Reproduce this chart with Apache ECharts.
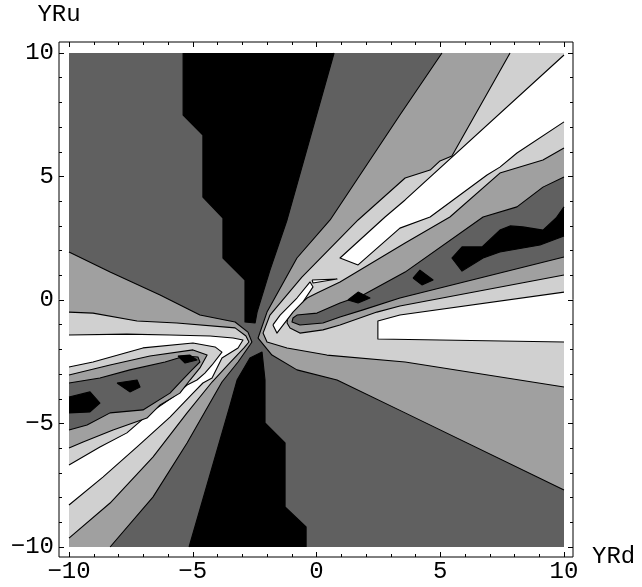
<!DOCTYPE html>
<html>
<head>
<meta charset="utf-8">
<script src="https://cdn.jsdelivr.net/npm/echarts@6/dist/echarts.min.js"></script>
<style>
  html, body { margin: 0; padding: 0; background: #fff; }
  #chart { width: 642px; height: 587px; }
</style>
</head>
<body>
<div id="chart"></div>
<script>
  // contour levels: 0 black, 1 dark, 2 mid, 3 light, 4 white
  var shades = ['#000000', '#606060', '#a0a0a0', '#d0d0d0', '#ffffff']

  // region outlines, in (YRd, YRu) data units
  var bgFill = [[-10, 10], [10, 10], [10, -10], [-10, -10]]
  var blackTop = [[-5.39, 10], [0.71, 10], [-1.19, 3.24], [-1.88, 1.21], [-2.40, -0.49], [-2.48, -0.93], [-2.89, -0.89],
    [-2.89, 0.81], [-3.78, 1.70], [-3.78, 3.32], [-4.59, 4.17], [-4.59, 6.68], [-5.39, 7.49]]
  var blackBottom = [[-2.69, -2.35], [-2.20, -2.11], [-2.08, -3.24], [-2.08, -4.98], [-1.27, -5.79], [-1.27, -8.38],
    [-0.42, -9.19], [-0.42, -10], [-5.15, -10], [-3.49, -4.25], [-3.21, -3.24]]

  // upper right lobe
  var midRight = [[5.07, 10], [10, 10], [10, -7.69], [3.58, -4.57], [0.83, -3.24], [-0.79, -2.83], [-1.80, -2.23],
    [-2.36, -1.54], [-2.00, -0.49], [-0.79, 1.70], [0.55, 3.24], [3.37, 7.49]]
  var lightRight = [[7.82, 10], [10, 10], [10, -3.52], [3.58, -2.51], [0.42, -2.23], [-1.19, -1.94], [-2.00, -1.70],
    [-2.16, -1.34], [-1.88, -0.61], [-0.59, 0.93], [1.68, 3.24], [3.58, 4.94], [4.59, 5.26], [4.99, 5.63], [5.47, 5.83]]
  var whiteRightUp = [[10, 9.92], [10, 7.21], [8.10, 5.95], [7.41, 5.38], [6.89, 5.06], [4.59, 3.36], [3.37, 2.91],
    [1.68, 1.42], [0.95, 1.70], [2.77, 3.36], [3.58, 4.05]]
  var whiteRightLow = [[2.48, -0.85], [3.37, -0.61], [10, 0.32], [10, -1.70], [2.48, -1.58]]
  var midRightIn = [[10, 6.15], [9.15, 5.67], [7.41, 5.14], [5.39, 3.36], [3.58, 2.31], [0.95, 0.73], [0.02, 0.28],
    [-0.38, 0.08], [-1.15, -0.61], [-1.19, -0.93], [-1.07, -1.13], [-0.67, -1.34], [0.26, -1.21], [0.95, -1.01],
    [2.44, -0.49], [3.37, -0.24], [10, 1.01]]
  var darkRightIn = [[10, 4.98], [9.15, 4.57], [8.10, 3.77], [6.73, 3.36], [3.58, 1.13], [1.88, 0.20], [0.95, -0.12],
    [0.02, -0.53], [-0.79, -0.61], [-0.95, -0.73], [-0.99, -0.89], [-0.67, -1.01], [0.26, -0.93], [0.95, -0.69],
    [1.88, -0.40], [3.37, 0.08], [10, 1.74]]
  var blackRightBig = [[5.47, 1.70], [5.88, 2.15], [6.69, 2.15], [7.41, 2.83], [7.82, 3.00], [8.34, 2.96], [9.15, 2.83],
    [9.68, 3.32], [10, 3.77], [10, 2.59], [9.03, 2.23], [7.41, 1.94], [6.73, 1.70], [5.88, 1.17]]
  var blackRightA = [[3.90, 0.89], [4.18, 1.21], [4.71, 0.81], [4.26, 0.61]]
  var blackRightB = [[1.27, 0], [1.68, 0.32], [2.16, 0.08], [1.68, -0.12]]
  var whiteSliver = [[-1.76, -1.01], [-1.47, -0.61], [-0.79, 0.08], [-0.26, 0.73], [-0.14, 0.53], [-0.55, -0.08],
    [-0.95, -0.49], [-1.60, -1.34]]
  var whiteThin = [[-0.18, 0.81], [0.83, 0.85], [-0.14, 0.69]]

  // lower left lobe
  var midLeft = [[-10, 1.94], [-8.34, 1.13], [-6.32, 0.20], [-4.71, -0.61], [-3.29, -0.89], [-2.77, -1.30],
    [-2.61, -1.70], [-2.69, -1.82], [-3.17, -2.51], [-3.82, -3.32], [-5.23, -5.79], [-6.61, -7.98], [-8.34, -10], [-10, -10]]
  var lightLeft = [[-10, -0.49], [-9.03, -0.53], [-7.25, -0.85], [-5.64, -0.93], [-3.29, -1.13], [-2.85, -1.46],
    [-2.73, -1.70], [-2.93, -1.94], [-3.58, -2.63], [-4.22, -3.32], [-5.23, -4.57], [-6.61, -6.36], [-8.34, -8.22], [-10, -9.64]]
  var whiteLeft = [[-10, -1.42], [-7.66, -1.38], [-5.92, -1.42], [-4.30, -1.46], [-3.37, -1.54], [-2.97, -1.62],
    [-3.17, -1.94], [-3.82, -2.35], [-4.02, -2.75], [-4.22, -3.16], [-4.59, -3.36], [-4.99, -3.77], [-5.92, -4.74],
    [-7.25, -5.95], [-8.63, -7.17], [-10, -8.30]]
  var lightLeftIn = [[-10, -2.71], [-9.03, -2.51], [-7.01, -1.94], [-4.99, -1.74], [-4.10, -1.90], [-3.82, -2.11],
    [-4.22, -2.63], [-4.51, -2.96], [-4.83, -3.24], [-5.23, -3.44], [-5.80, -3.93], [-6.73, -4.57], [-7.66, -5.38],
    [-8.75, -5.95], [-10, -6.68]]
  var midLeftIn = [[-10, -3.04], [-8.34, -2.63], [-6.73, -2.27], [-4.99, -2.02], [-4.42, -2.23], [-4.71, -2.75],
    [-5.11, -3.24], [-5.52, -3.77], [-6.32, -4.25], [-6.85, -4.78], [-8.22, -5.26], [-9.43, -5.75], [-10, -5.99]]
  var darkLeftIn = [[-10, -3.36], [-8.75, -3.16], [-7.54, -2.83], [-6.12, -2.51], [-5.31, -2.27], [-4.79, -2.31],
    [-4.71, -2.51], [-5.03, -2.83], [-5.39, -3.20], [-5.92, -3.77], [-7.01, -4.45], [-8.34, -4.57], [-9.27, -5.06], [-10, -5.26]]
  var blackLeftA = [[-10, -3.93], [-9.15, -3.72], [-8.75, -4.17], [-9.15, -4.53], [-10, -4.57]]
  var blackLeftB = [[-8.06, -3.36], [-7.25, -3.24], [-7.13, -3.52], [-7.54, -3.72]]
  var blackLeftC = [[-5.60, -2.27], [-5.11, -2.23], [-4.83, -2.43], [-5.31, -2.55]]

  // painting order, back to front, with the level of each region
  var layers = [
    [bgFill, 1], [blackTop, 0], [blackBottom, 0],
    [midRight, 2], [lightRight, 3], [whiteRightUp, 4], [whiteRightLow, 4], [midRightIn, 2], [darkRightIn, 1],
    [blackRightBig, 0], [blackRightA, 0], [blackRightB, 0], [whiteSliver, 4], [whiteThin, 4],
    [midLeft, 2], [lightLeft, 3], [whiteLeft, 4], [lightLeftIn, 3], [midLeftIn, 2], [darkLeftIn, 1],
    [blackLeftA, 0], [blackLeftB, 0], [blackLeftC, 0]
  ]

  function onBorder(a, b) {
    return (Math.abs(a[0]) >= 10 && a[0] === b[0]) || (Math.abs(a[1]) >= 10 && a[1] === b[1])
  }

  function renderItem(params, api) {
    var layer = layers[params.dataIndex]
    var pts = layer[0]
    var n = pts.length
    var px = pts.map(function (p) { return api.coord(p) })
    var children = [{
      type: 'polygon', z2: params.dataIndex * 2,
      shape: {points: px},
      style: {fill: shades[layer[1]], stroke: null}
    }]
    // contour lines: every edge that is not on the plot border
    var start = 0
    for (var k = 0; k < n; k++) if (onBorder(pts[k], pts[(k + 1) % n])) { start = k + 1; break }
    var run = []
    for (var j = 0; j < n; j++) {
      var i = (start + j) % n, i2 = (i + 1) % n
      if (onBorder(pts[i], pts[i2])) {
        if (run.length > 1) children.push(lineEl(run, params.dataIndex))
        run = []
      } else {
        if (run.length === 0) run.push(px[i])
        run.push(px[i2])
      }
    }
    if (run.length > 1) children.push(lineEl(run, params.dataIndex))
    return {type: 'group', children: children}
  }

  function lineEl(run, idx) {
    return {
      type: 'polyline', z2: idx * 2 + 1,
      shape: {points: run},
      style: {fill: null, stroke: '#000', lineWidth: 1.1, lineJoin: 'round'}
    }
  }

  var labelFont = {fontFamily: '"Liberation Mono", "DejaVu Sans Mono", monospace', fontSize: 24, color: '#000'}
  function fmt(v) { return String(v).replace('-', '\u2212') }

  function tickAxis(pos, offset, showLabel, margin) {
    return {
      type: 'value', gridIndex: 0, position: pos, offset: offset,
      min: -10, max: 10, interval: 5,
      axisLine: {show: false, onZero: false},
      splitLine: {show: false},
      axisTick: {show: true, inside: true, length: 5, lineStyle: {color: '#000', width: 1}},
      minorTick: {show: true, splitNumber: 5, length: 3, lineStyle: {color: '#000', width: 1}},
      axisLabel: Object.assign({show: showLabel, margin: margin || 6, formatter: fmt}, labelFont),
      z: 5
    }
  }

  var chart = echarts.init(document.getElementById('chart'), null, {renderer: 'canvas'})
  var xBottom = tickAxis('bottom', 10, true, 3)
  xBottom.name = 'YRd'
  xBottom.nameLocation = 'end'
  xBottom.nameGap = 28
  xBottom.nameTextStyle = Object.assign({verticalAlign: 'middle', align: 'left', padding: [6, 0, 0, 0]}, labelFont)
  var yLeft = tickAxis('left', 10, true, 5)
  yLeft.name = 'YRu'
  yLeft.nameLocation = 'end'
  yLeft.nameGap = 38
  yLeft.nameTextStyle = Object.assign({verticalAlign: 'middle', align: 'center'}, labelFont)

  var option = {
    animation: false,
    grid: [
      {left: 69, right: 78, top: 53, bottom: 40, show: false},
      {left: 59, right: 69, top: 42, bottom: 30, show: true, borderColor: '#000', borderWidth: 1, backgroundColor: 'transparent'}
    ],
    xAxis: [
      xBottom,
      tickAxis('top', 11, false),
      {type: 'value', gridIndex: 1, show: false, min: 0, max: 1}
    ],
    yAxis: [
      yLeft,
      tickAxis('right', 9, false),
      {type: 'value', gridIndex: 1, show: false, min: 0, max: 1}
    ],
    series: [{
      type: 'custom',
      xAxisIndex: 0, yAxisIndex: 0,
      renderItem: renderItem,
      data: layers.map(function (l) { return l[0][0] })
    }]
  }
  chart.setOption(option)
</script>
</body>
</html>
